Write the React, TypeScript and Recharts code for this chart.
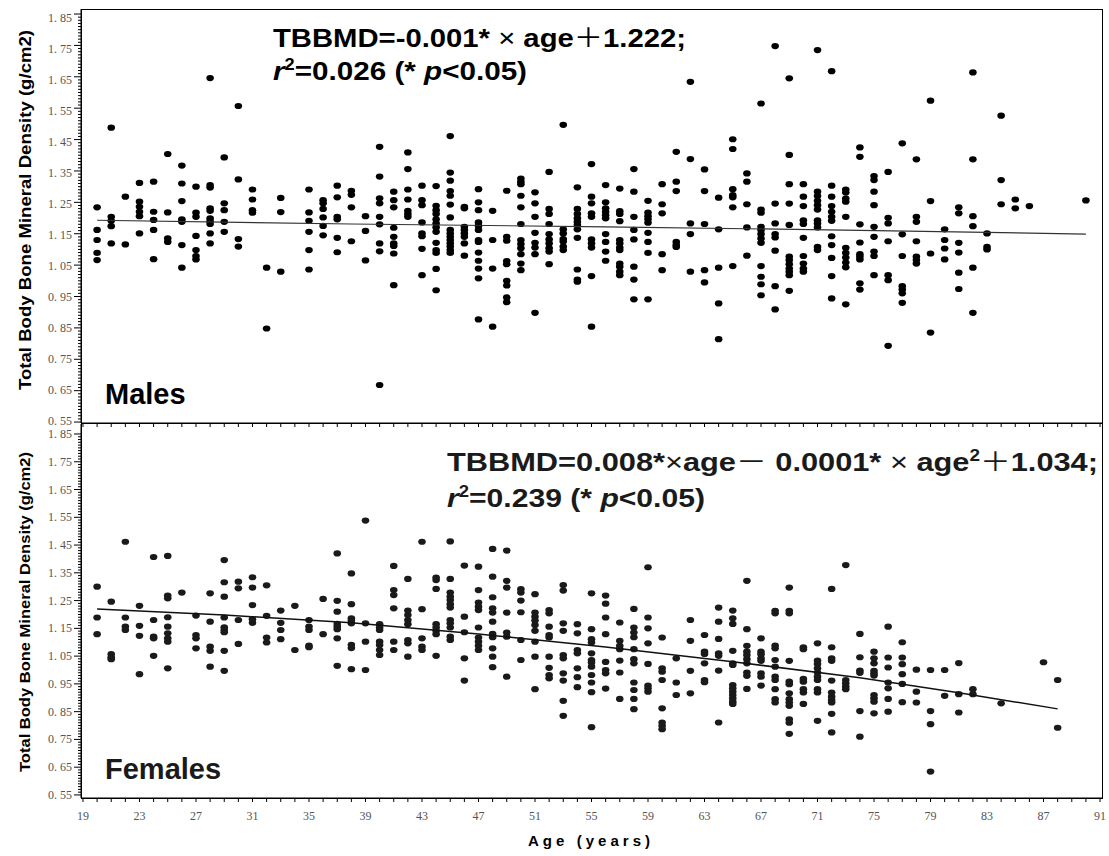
import { ScatterChart, Scatter, XAxis, YAxis } from 'recharts'

// x axis: one tick per year, labels every 4 years
const xMajorTicks = [19, 23, 27, 31, 35, 39, 43, 47, 51, 55, 59, 63, 67, 71, 75, 79, 83, 87, 91]
const yMajorTicks = [0.55, 0.65, 0.75, 0.85, 0.95, 1.05, 1.15, 1.25, 1.35, 1.45, 1.55, 1.65, 1.75, 1.85]

const xAllTicks = Array.from({ length: 73 }, (_, i) => 19 + i)
const yAllTicks = Array.from({ length: 131 }, (_, i) => Math.round((0.55 + i * 0.01) * 100) / 100)

// Males: age groups and BMD values
const maleAges = [20, 21, 22, 23, 24, 25, 26, 27, 28, 29, 30, 31, 32, 33, 35, 36, 37, 38, 39, 40,
  41, 42, 43, 44, 45, 46, 47, 48, 49, 50, 51, 52, 53, 54, 55, 56, 57, 58, 59, 60,
  61, 62, 63, 64, 65, 66, 67, 68, 69, 70, 71, 72, 73, 74, 75, 76, 77, 78, 79, 80,
  81, 82, 83, 84, 85, 86, 90]
const maleBmd = [
  [1.234, 1.162, 1.130, 1.089, 1.066],
  [1.488, 1.204, 1.191, 1.174, 1.119],
  [1.268, 1.116],
  [1.312, 1.252, 1.236, 1.220, 1.206, 1.151],
  [1.316, 1.220, 1.194, 1.162, 1.069],
  [1.404, 1.218, 1.135, 1.124],
  [1.367, 1.310, 1.254, 1.196, 1.188, 1.114, 1.042],
  [1.300, 1.217, 1.204, 1.143, 1.098, 1.079, 1.068],
  [1.646, 1.305, 1.297, 1.231, 1.223, 1.199, 1.190, 1.181, 1.151, 1.119],
  [1.393, 1.247, 1.225, 1.188, 1.156],
  [1.557, 1.323, 1.133, 1.109],
  [1.291, 1.259, 1.225, 1.217],
  [1.042, 0.848],
  [1.264, 1.219, 1.029],
  [1.291, 1.218, 1.191, 1.156, 1.098, 1.036],
  [1.257, 1.247, 1.229, 1.202, 1.175, 1.145],
  [1.303, 1.266, 1.204, 1.196, 1.137, 1.091],
  [1.287, 1.274, 1.234, 1.126],
  [1.206, 1.159, 1.065],
  [1.427, 1.332, 1.263, 1.247, 1.204, 1.180, 1.119, 1.094, 0.668],
  [1.284, 1.257, 1.234, 1.169, 1.140, 1.119, 1.111, 1.087, 0.986],
  [1.409, 1.356, 1.291, 1.259, 1.223, 1.213, 1.204],
  [1.303, 1.257, 1.241, 1.186, 1.151, 1.142, 1.102, 1.018],
  [1.302, 1.239, 1.225, 1.213, 1.196, 1.183, 1.170, 1.156, 1.121, 1.098, 1.089, 1.038, 0.970],
  [1.461, 1.345, 1.319, 1.286, 1.271, 1.243, 1.202, 1.162, 1.151, 1.140, 1.130, 1.119, 1.109, 1.098, 1.089],
  [1.236, 1.231, 1.172, 1.162, 1.151, 1.140, 1.119, 1.080],
  [1.292, 1.250, 1.225, 1.186, 1.175, 1.162, 1.130, 1.124, 1.090, 1.064, 1.039, 1.008, 0.877],
  [1.223, 1.130, 1.039, 0.854],
  [1.287, 1.140, 1.128, 1.063, 1.053, 1.000, 0.985, 0.947, 0.932],
  [1.326, 1.316, 1.308, 1.271, 1.234, 1.181, 1.130, 1.117, 1.104, 1.085, 1.055, 1.034],
  [1.282, 1.247, 1.204, 1.153, 1.121, 1.106, 1.085, 0.898],
  [1.347, 1.229, 1.213, 1.181, 1.149, 1.132, 1.119, 1.104, 1.093, 1.053],
  [1.497, 1.164, 1.151, 1.133, 1.125, 1.109, 1.098],
  [1.298, 1.229, 1.213, 1.199, 1.188, 1.178, 1.164, 1.137, 1.036, 1.004, 0.997],
  [1.372, 1.268, 1.247, 1.215, 1.204, 1.132, 1.119, 1.106, 1.015, 0.854],
  [1.305, 1.250, 1.231, 1.220, 1.209, 1.199, 1.149, 1.124, 1.093, 1.064],
  [1.294, 1.222, 1.213, 1.190, 1.130, 1.119, 1.106, 1.098, 1.055, 1.045, 1.029, 1.018],
  [1.356, 1.284, 1.204, 1.162, 1.132, 1.045, 1.004, 0.941],
  [1.255, 1.217, 1.206, 1.196, 1.185, 1.153, 1.124, 1.089, 0.941],
  [1.308, 1.244, 1.215, 1.085, 1.034],
  [1.411, 1.316, 1.286, 1.124, 1.114, 1.108],
  [1.634, 1.388, 1.183, 1.149, 1.029],
  [1.355, 1.286, 1.181, 1.034, 0.995],
  [1.265, 1.164, 1.042, 0.928, 0.814],
  [1.451, 1.420, 1.292, 1.273, 1.266, 1.234, 1.047],
  [1.342, 1.316, 1.244, 1.170, 1.080],
  [1.565, 1.227, 1.217, 1.172, 1.162, 1.149, 1.135, 1.121, 1.047, 1.013, 0.989, 0.954],
  [1.748, 1.246, 1.183, 1.149, 1.138, 1.096, 0.983, 0.909],
  [1.645, 1.401, 1.308, 1.246, 1.178, 1.077, 1.066, 1.053, 1.039, 1.029, 1.018, 0.968],
  [1.308, 1.268, 1.238, 1.193, 1.181, 1.137, 1.079, 1.055, 1.039, 1.029],
  [1.735, 1.284, 1.270, 1.255, 1.241, 1.227, 1.193, 1.183, 1.170, 1.108, 1.098],
  [1.668, 1.303, 1.268, 1.238, 1.220, 1.204, 1.191, 1.142, 1.114, 1.073, 1.015, 0.944],
  [1.291, 1.281, 1.262, 1.252, 1.204, 1.105, 1.089, 1.074, 1.058, 1.043, 0.925],
  [1.425, 1.395, 1.180, 1.122, 1.085, 1.077, 1.068, 0.992, 0.972],
  [1.334, 1.321, 1.284, 1.241, 1.172, 1.140, 1.093, 1.079, 1.018],
  [1.347, 1.201, 1.183, 1.126, 1.018, 1.002, 0.793],
  [1.438, 1.148, 1.079, 0.983, 0.972, 0.960, 0.930],
  [1.387, 1.204, 1.188, 1.126, 1.077, 1.066, 1.055],
  [1.574, 1.254, 1.087, 0.835],
  [1.164, 1.130, 1.103, 1.068],
  [1.234, 1.215, 1.121, 1.090, 1.026, 0.974],
  [1.664, 1.387, 1.206, 1.174, 1.042, 0.898],
  [1.151, 1.108, 1.100],
  [1.526, 1.321, 1.244],
  [1.259, 1.231],
  [1.238],
  [1.256],
]
const maleFitAges = [20, 38, 56, 74, 90]
const maleFitBmd = [1.193, 1.181, 1.172, 1.161, 1.149]

// Females: age groups and BMD values
const femaleAges = [20, 21, 22, 23, 24, 25, 26, 27, 28, 29, 30, 31, 32, 33, 34, 35, 36, 37, 38, 39,
  40, 41, 42, 43, 44, 45, 46, 47, 48, 49, 50, 51, 52, 53, 54, 55, 56, 57, 58, 59,
  60, 61, 62, 63, 64, 65, 66, 67, 68, 69, 70, 71, 72, 73, 74, 75, 76, 77, 78, 79,
  80, 81, 82, 84, 87, 88]
const femaleBmd = [
  [1.300, 1.189, 1.129],
  [1.246, 1.057, 1.046, 1.039],
  [1.462, 1.189, 1.156, 1.144],
  [1.231, 1.159, 1.123, 0.985],
  [1.407, 1.180, 1.120, 1.114, 1.051],
  [1.411, 1.268, 1.258, 1.190, 1.156, 1.132, 1.114, 1.102, 1.006],
  [1.279],
  [1.196, 1.126, 1.114, 1.078],
  [1.276, 1.174, 1.084, 1.069, 1.012],
  [1.396, 1.316, 1.264, 1.189, 1.154, 1.144, 1.136, 1.069, 0.997],
  [1.318, 1.294, 1.180, 1.094],
  [1.334, 1.297, 1.234, 1.183, 1.170],
  [1.305, 1.195, 1.117, 1.099],
  [1.214, 1.170, 1.144, 1.111],
  [1.231, 1.072],
  [1.180, 1.156, 1.144, 1.088, 1.082],
  [1.256, 1.129],
  [1.420, 1.249, 1.210, 1.166, 1.156, 1.147, 1.114, 1.015],
  [1.348, 1.237, 1.186, 1.177, 1.168, 1.091, 1.079, 1.003],
  [1.538, 1.168, 1.102, 1.000],
  [1.165, 1.153, 1.144, 1.102, 1.090, 1.072, 1.054],
  [1.375, 1.288, 1.270, 1.222, 1.102, 1.072],
  [1.328, 1.214, 1.198, 1.180, 1.165, 1.108, 1.096, 1.048],
  [1.462, 1.219, 1.114, 1.084, 1.072],
  [1.333, 1.324, 1.292, 1.165, 1.153, 1.141, 1.129, 1.051],
  [1.463, 1.328, 1.279, 1.264, 1.252, 1.237, 1.225, 1.180, 1.168, 1.153, 1.120, 1.108],
  [1.376, 1.192, 1.136, 1.042, 0.962],
  [1.372, 1.288, 1.243, 1.228, 1.216, 1.153, 1.117, 1.102, 1.087, 1.072],
  [1.436, 1.336, 1.262, 1.222, 1.207, 1.174, 1.130, 1.118, 1.078, 1.048, 1.010],
  [1.430, 1.321, 1.297, 1.207, 1.135, 1.120, 0.976],
  [1.291, 1.279, 1.250, 1.208, 1.108, 1.036],
  [1.273, 1.207, 1.192, 1.178, 1.162, 1.141, 1.102, 1.048, 0.931],
  [1.216, 1.204, 1.156, 1.126, 1.117, 1.048, 1.008, 0.982, 0.970],
  [1.306, 1.286, 1.168, 1.141, 1.054, 1.042, 0.988, 0.962, 0.889, 0.835],
  [1.165, 1.132, 1.072, 1.060, 1.006, 0.974, 0.938],
  [1.276, 1.147, 1.111, 1.099, 1.060, 1.036, 1.027, 1.012, 0.982, 0.955, 0.920, 0.794],
  [1.268, 1.239, 1.189, 1.129, 1.029, 1.000, 0.988, 0.933],
  [1.171, 1.105, 1.087, 1.075, 1.034, 0.991, 0.896],
  [1.220, 1.153, 1.135, 1.118, 1.075, 1.039, 1.024, 0.955, 0.928, 0.896, 0.859],
  [1.370, 1.189, 1.150, 1.096, 1.022, 0.944, 0.934, 0.922],
  [1.117, 1.006, 0.994, 0.964, 0.862, 0.811, 0.799, 0.787],
  [1.042, 0.955, 0.910],
  [1.180, 1.105, 0.997, 0.916],
  [1.126, 1.066, 1.058, 1.024, 0.964, 0.956],
  [1.225, 1.174, 1.112, 1.060, 1.051, 0.998, 0.811],
  [1.214, 1.186, 1.166, 1.069, 1.024, 1.018, 0.946, 0.934, 0.922, 0.910, 0.898, 0.886, 0.878],
  [1.321, 1.147, 1.087, 1.066, 1.054, 1.039, 1.024, 0.991, 0.979, 0.932],
  [1.114, 1.066, 1.057, 1.042, 1.033, 0.988, 0.976, 0.944],
  [1.213, 1.204, 1.088, 1.078, 1.036, 1.012, 0.976, 0.964, 0.931, 0.895, 0.883],
  [1.297, 1.213, 1.204, 1.033, 0.958, 0.949, 0.916, 0.895, 0.883, 0.871, 0.822, 0.810, 0.770],
  [1.082, 1.075, 0.968, 0.958, 0.931, 0.919, 0.878],
  [1.096, 1.034, 1.022, 1.006, 0.991, 0.976, 0.964, 0.931, 0.919, 0.817],
  [1.292, 1.082, 1.042, 1.033, 0.962, 0.919, 0.904, 0.892, 0.883, 0.842, 0.775],
  [1.378, 0.964, 0.952, 0.940, 0.931],
  [1.130, 1.046, 0.998, 0.990, 0.852, 0.760],
  [1.066, 1.042, 1.024, 0.997, 0.988, 0.980, 0.910, 0.898, 0.886, 0.844],
  [1.156, 1.045, 1.009, 0.955, 0.934, 0.896, 0.850],
  [1.100, 1.045, 1.021, 0.985, 0.950, 0.884],
  [1.001, 0.922, 0.883],
  [1.000, 0.852, 0.805, 0.634],
  [1.000, 0.907],
  [1.025, 0.913, 0.847],
  [0.931, 0.913],
  [0.880],
  [1.028],
  [0.964, 0.792],
]
const femaleFitAges = [20, 29, 38, 47, 56, 65, 74, 81, 88]
const femaleFitBmd = [1.220, 1.198, 1.170, 1.130, 1.083, 1.030, 0.972, 0.918, 0.860]

const toPoints = (ages: number[], vals: number[][]) =>
  ages.flatMap((age, i) => vals[i].map((bmd) => ({ age, bmd })))
const toLine = (ages: number[], vals: number[]) => ages.map((age, i) => ({ age, bmd: vals[i] }))

const malePoints = toPoints(maleAges, maleBmd)
const femalePoints = toPoints(femaleAges, femaleBmd)
const maleFit = toLine(maleFitAges, maleFitBmd)
const femaleFit = toLine(femaleFitAges, femaleFitBmd)

const serif = '"Liberation Serif", "DejaVu Serif", serif'
const sans = '"Liberation Sans", Arial, sans-serif'
const cjk = '"Noto Sans CJK SC", "Noto Sans CJK JP", sans-serif'

const fmtY = (v: number) => v.toFixed(2).replace('.', '. ')

const YTick = (props: any) => {
  const { x, y, payload, labelShift } = props
  const major = yMajorTicks.some((t) => Math.abs(t - payload.value) < 1e-6)
  const shift = labelShift ? labelShift(payload.value) : 0
  return (
    <g>
      <line x1={x - (major ? 7 : 3)} x2={x} y1={y} y2={y} stroke="#000" strokeWidth={1} />
      {major && (
        <text x={x - 9} y={y + shift} dy={4} textAnchor="end" fontFamily={serif} fontSize={12} fill="#555">
          {fmtY(payload.value)}
        </text>
      )}
    </g>
  )
}

const XTick = (props: any) => {
  const { x, y, payload, showLabel } = props
  const major = xMajorTicks.includes(payload.value)
  return (
    <g>
      <line x1={x} x2={x} y1={y} y2={y + 4} stroke="#000" strokeWidth={1} />
      {showLabel && major && (
        <text x={x} y={y + 22} textAnchor="middle" fontFamily={serif} fontSize={12} fill="#555">
          {payload.value}
        </text>
      )}
    </g>
  )
}

const Dot = (color: string) => (props: any) => (
  <ellipse cx={props.cx} cy={props.cy} rx={3.8} ry={3.1} fill={color} />
)

const NoDot = () => <g />

function Panel({ points, fit, yDomain, height, marginTop, marginBottom, xHeight, showLabels, color, lineColor, lineWidth, labelShift }: any) {
  return (
    <ScatterChart
      width={1109}
      height={height}
      margin={{ top: marginTop, right: 6, bottom: marginBottom, left: 0 }}
    >
      <XAxis
        type="number"
        dataKey="age"
        domain={[18.86, 91.21]}
        allowDataOverflow
        ticks={xAllTicks}
        interval={0}
        tickSize={0}
        tickMargin={0}
        height={xHeight}
        axisLine={{ stroke: '#000' }}
        tickLine={false}
        tick={(p: any) => <XTick {...p} showLabel={showLabels} />}
      />
      <YAxis
        type="number"
        dataKey="bmd"
        domain={yDomain}
        allowDataOverflow
        ticks={yAllTicks}
        interval={0}
        tickSize={0}
        tickMargin={0}
        width={81}
        axisLine={{ stroke: '#000' }}
        tickLine={false}
        tick={(p: any) => <YTick {...p} labelShift={labelShift} />}
      />
      <Scatter data={points} shape={Dot(color)} isAnimationActive={false} />
      <Scatter
        data={fit}
        shape={NoDot}
        line={{ stroke: lineColor, strokeWidth: lineWidth }}
        isAnimationActive={false}
      />
    </ScatterChart>
  )
}

export default function App() {
  return (
    <div style={{ position: 'absolute', left: 0, top: 0, width: 1109, height: 856, background: '#fff' }}>
      <div style={{ position: 'absolute', left: 0, top: 0 }}>
        <Panel
          points={malePoints}
          fit={maleFit}
          yDomain={[0.547, 1.866]}
          height={430}
          marginTop={9}
          marginBottom={6}
          xHeight={1}
          showLabels={false}
          color="#000"
          lineColor="#333"
          lineWidth={1.2}
          labelShift={(v: number) => ((v - 0.55) / 1.3) * 5 - 1}
        />
      </div>
      <div style={{ position: 'absolute', left: 0, top: 420 }}>
        <Panel
          points={femalePoints}
          fit={femaleFit}
          yDomain={[0.539, 1.886]}
          height={436}
          marginTop={4}
          marginBottom={0}
          xHeight={58}
          showLabels={true}
          color="#1a1a1a"
          lineColor="#111"
          lineWidth={1.5}
        />
      </div>
      {/* panel frames */}
      <div style={{ position: 'absolute', left: 81, top: 9, width: 1022, height: 415, border: '1px solid #000', boxSizing: 'border-box', pointerEvents: 'none' }} />
      <div style={{ position: 'absolute', left: 81, top: 423, width: 1022, height: 376, border: '1px solid #000', boxSizing: 'border-box', pointerEvents: 'none' }} />
      <svg width={1109} height={856} style={{ position: 'absolute', left: 0, top: 0, pointerEvents: 'none' }}>
        <g fontFamily={sans} fontWeight="bold" fill="#000">
          <text x={273} y={47} fontSize={26} textLength={413} lengthAdjust="spacingAndGlyphs">
            TBBMD=-0.001*<tspan fontWeight="normal"> × </tspan>age<tspan fontFamily={cjk} fontWeight="normal">＋</tspan>1.222;
          </text>
          <text x={273} y={80} fontSize={26} textLength={254} lengthAdjust="spacingAndGlyphs">
            <tspan fontStyle="italic">r</tspan>
            <tspan fontSize={16} dy={-10}>2</tspan>
            <tspan dy={10}>=0.026 (* </tspan>
            <tspan fontStyle="italic">p</tspan>
            <tspan>&lt;0.05)</tspan>
          </text>
          <text x={105} y={404} fontSize={29}>Males</text>
        </g>
        <g fontFamily={sans} fontWeight="bold" fill="#1a1a1a">
          <text x={447} y={471} fontSize={26} textLength={651} lengthAdjust="spacingAndGlyphs">
            TBBMD=0.008*<tspan fontWeight="normal">×</tspan>age<tspan fontFamily={cjk} fontWeight="normal">－</tspan> 0.0001*<tspan fontWeight="normal"> × </tspan>age<tspan fontSize={16} dy={-10}>2</tspan><tspan dy={10} fontFamily={cjk} fontWeight="normal">＋</tspan>1.034;
          </text>
          <text x={447} y={507} fontSize={26} textLength={258} lengthAdjust="spacingAndGlyphs">
            <tspan fontStyle="italic">r</tspan>
            <tspan fontSize={16} dy={-10}>2</tspan>
            <tspan dy={10}>=0.239 (* </tspan>
            <tspan fontStyle="italic">p</tspan>
            <tspan>&lt;0.05)</tspan>
          </text>
          <text x={105} y={779} fontSize={29}>Females</text>
        </g>
        <text
          transform="translate(31, 210) rotate(-90)"
          textAnchor="middle"
          fontFamily={sans}
          fontWeight="bold"
          fontSize={17}
          textLength={360}
          lengthAdjust="spacingAndGlyphs"
          fill="#000"
        >
          Total Body Bone Mineral Density (g/cm2)
        </text>
        <text
          transform="translate(30, 612) rotate(-90)"
          textAnchor="middle"
          fontFamily={sans}
          fontWeight="bold"
          fontSize={15.5}
          textLength={320}
          lengthAdjust="spacingAndGlyphs"
          fill="#000"
        >
          Total Body Bone Mineral Density (g/cm2)
        </text>
        <text
          x={528}
          y={846}
          fontFamily={sans}
          fontWeight="bold"
          fontSize={15}
          textLength={122}
          lengthAdjust="spacing"
          fill="#000"
        >
          Age (years)
        </text>
      </svg>
    </div>
  )
}
